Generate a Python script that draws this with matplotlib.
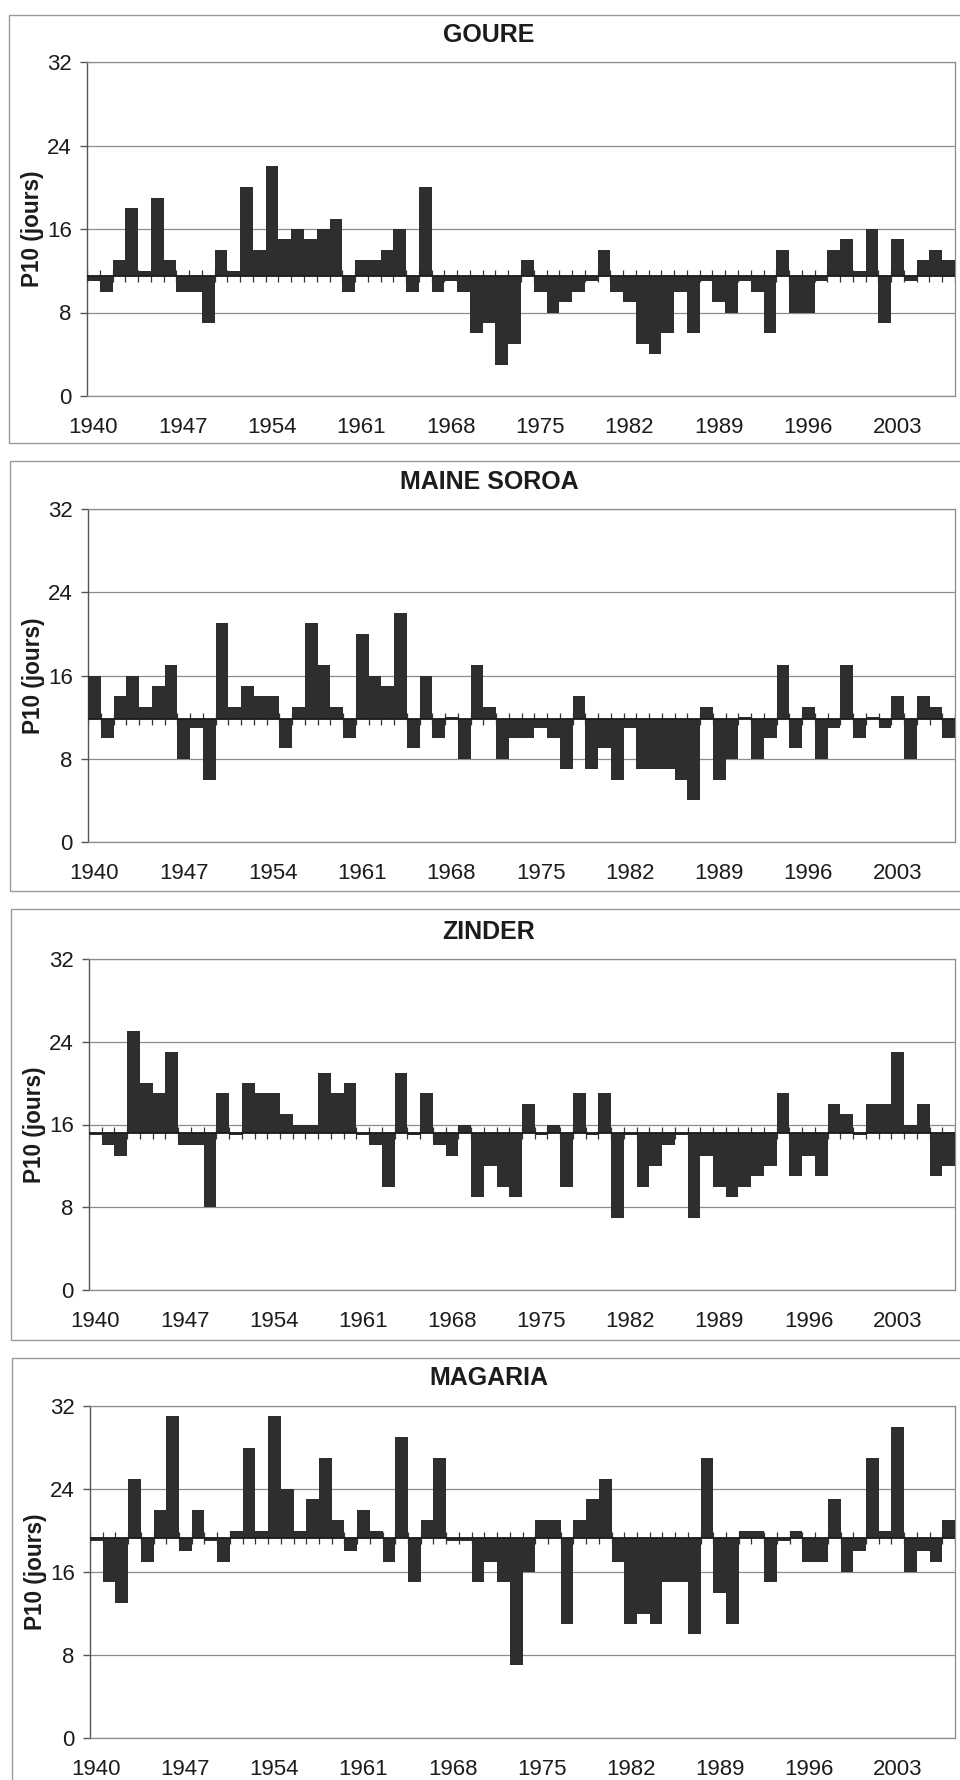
import matplotlib
matplotlib.use('Agg')
import matplotlib.pyplot as plt
from matplotlib.patches import Rectangle
import numpy as np

plt.rcParams['font.family'] = ['Liberation Sans', 'DejaVu Sans']

# ---------------- data ----------------
years = list(range(1940, 2008))
tick_years = years[::7]

titles = ["GOURE", "MAINE SOROA", "ZINDER", "MAGARIA"]

goure = [11, 10, 13, 18, 12, 19, 13, 10, 10, 7,
         14, 12, 20, 14, 22, 15, 16, 15, 16, 17,
         10, 13, 13, 14, 16, 10, 20, 10, 11, 10,
         6, 7, 3, 5, 13, 10, 8, 9, 10, 11,
         14, 10, 9, 5, 4, 6, 10, 6, 11, 9,
         8, 11, 10, 6, 14, 8, 8, 11, 14, 15,
         12, 16, 7, 15, 11, 13, 14, 13]

maine_soroa = [16, 10, 14, 16, 13, 15, 17, 8, 11, 6,
               21, 13, 15, 14, 14, 9, 13, 21, 17, 13,
               10, 20, 16, 15, 22, 9, 16, 10, 12, 8,
               17, 13, 8, 10, 10, 11, 10, 7, 14, 7,
               9, 6, 11, 7, 7, 7, 6, 4, 13, 6,
               8, 12, 8, 10, 17, 9, 13, 8, 11, 17,
               10, 12, 11, 14, 8, 14, 13, 10]

zinder = [15, 14, 13, 25, 20, 19, 23, 14, 14, 8,
          19, 15, 20, 19, 19, 17, 16, 16, 21, 19,
          20, 15, 14, 10, 21, 15, 19, 14, 13, 16,
          9, 12, 10, 9, 18, 15, 16, 10, 19, 15,
          19, 7, 15, 10, 12, 14, 15, 7, 13, 10,
          9, 10, 11, 12, 19, 11, 13, 11, 18, 17,
          15, 18, 18, 23, 16, 18, 11, 12]

magaria = [19, 15, 13, 25, 17, 22, 31, 18, 22, 19,
           17, 20, 28, 20, 31, 24, 20, 23, 27, 21,
           18, 22, 20, 17, 29, 15, 21, 27, 19, 19,
           15, 17, 15, 7, 16, 21, 21, 11, 21, 23,
           25, 17, 11, 12, 11, 15, 15, 10, 27, 14,
           11, 20, 20, 15, 19, 20, 17, 17, 23, 16,
           18, 27, 20, 30, 16, 18, 17, 21]

# mean (axis crossing) of each series
baselines = [11.5, 11.8, 15.15, 19.3]

series = [goure, maine_soroa, zinder, magaria]

# ---------------- layout (pixels) ----------------
W, H = 960, 1780
fig = plt.figure(figsize=(W / 100, H / 100), dpi=100)
fig.patch.set_facecolor('white')

# plot areas: left, top, right, bottom
plot_boxes = [(87, 62, 955, 396),
              (88, 509, 955, 842),
              (89, 959, 955, 1290),
              (90, 1406, 955, 1738)]
# outer chart frames: x0, y0, x1, y1
frames = [(9, 15, 962, 443),
          (10, 461, 962, 891),
          (11, 909, 962, 1340),
          (12, 1358, 962, 1790)]
title_pos = [(489, 35), (489, 482), (489, 932), (489, 1378)]

bar_color = '#2e2e2e'
text_color = '#1c1c1c'

for i in range(4):
    l, t, r, b = plot_boxes[i]
    ax = fig.add_axes([l / W, 1 - b / H, (r - l) / W, (b - t) / H])
    vals = np.array(series[i], dtype=float)
    base = baselines[i]

    ax.bar(years, vals - base, bottom=base, width=1.0, color=bar_color,
           edgecolor='none', linewidth=0, zorder=3)

    ax.set_xlim(years[0] - 0.5, years[-1] + 0.5)
    ax.set_ylim(0, 32)
    ax.set_yticks([0, 8, 16, 24, 32])
    ax.yaxis.grid(True, color='#8c8c8c', lw=0.9)
    ax.set_axisbelow(True)

    ax.set_xticks(tick_years)
    ax.set_xticklabels([str(y) for y in tick_years])
    ax.tick_params(axis='x', length=0, pad=15, labelsize=16, labelcolor=text_color)
    ax.tick_params(axis='y', length=5, width=1, direction='out', pad=6,
                   labelsize=16, labelcolor=text_color, color='#555555')

    # category axis crossing at the mean, with cross tick marks
    ax.axhline(base, color='#1a1a1a', lw=1.3, zorder=4)
    bounds = np.arange(years[0] - 0.5, years[-1] + 1.0, 1.0)
    ax.plot(bounds, np.full(len(bounds), base), ls='', marker='|', ms=8,
            mew=0.9, color='#333333', zorder=2)

    for s in ['top', 'right', 'bottom']:
        ax.spines[s].set_color('#8c8c8c')
        ax.spines[s].set_linewidth(0.9)
    ax.spines['left'].set_color('#555555')
    ax.spines['left'].set_linewidth(1.0)

    ax.set_ylabel('P10 (jours)', fontsize=16.3, fontweight='bold', color=text_color)
    ax.yaxis.set_label_coords(-0.050, 0.5)

    tx, ty = title_pos[i]
    fig.text(tx / W, 1 - ty / H, titles[i], ha='center', va='center',
             fontsize=18, fontweight='bold', color=text_color)

    x0, y0, x1, y1 = frames[i]
    fig.add_artist(Rectangle((x0 / W, 1 - y1 / H), (x1 - x0) / W, (y1 - y0) / H,
                             transform=fig.transFigure, fill=False,
                             edgecolor='#9a9a9a', linewidth=1.0))

fig.savefig('out.png', dpi=100, facecolor='white')
